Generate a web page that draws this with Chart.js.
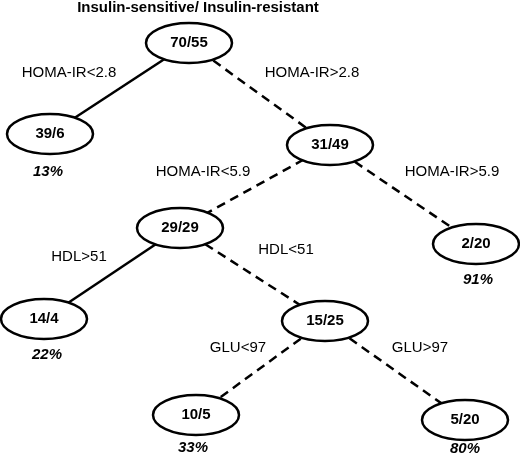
<!DOCTYPE html>
<html>
<head>
<meta charset="utf-8">
<script src="https://cdn.jsdelivr.net/npm/chart.js@4.4.1/dist/chart.umd.min.js"></script>
<style>
  html, body { margin: 0; padding: 0; background: #fff; }
  #wrap { width: 520px; height: 463px; }
</style>
</head>
<body>
<div id="wrap"><canvas id="chartTree" width="520" height="463"></canvas></div>
<script>
// ====== Dados da árvore ======
const titulo = "Insulin-sensitive/ Insulin-resistant";

// nós: rótulo (sensível/resistente) e posição
const nodeLabels = ["70/55", "39/6", "31/49", "2/20", "29/29", "14/4", "15/25", "10/5", "5/20"];
const nodeX = [189, 50, 330, 476, 180, 44, 325, 196, 465];
const nodeY = [43, 134, 145, 244, 228, 319, 321, 415, 420];

// ramos: pai -> filho
const edgeFrom = [0, 0, 2, 2, 4, 4, 6, 6];
const edgeTo = [1, 2, 4, 3, 5, 6, 7, 8];
const edgeDashed = [false, true, true, true, false, true, true, true];
const edgeLabels = ["HOMA-IR<2.8", "HOMA-IR>2.8", "HOMA-IR<5.9", "HOMA-IR>5.9", "HDL>51", "HDL<51", "GLU<97", "GLU>97"];
const edgeLabelX = [69, 312, 203, 452, 79, 286, 238, 420];
const edgeLabelY = [73, 73, 172, 172, 257, 250, 348, 348];

// folhas: % resistente
const leafPct = ["13%", "91%", "22%", "33%", "80%"];
const leafX = [48, 478, 47, 193, 465];
const leafY = [172, 280, 355, 448, 449];

// ====== Elipse usada como pointStyle ======
function makeEllipse(rx, ry) {
    const c = document.createElement("canvas");
    c.width = rx * 2 + 6;
    c.height = ry * 2 + 6;
    const g = c.getContext("2d");
    g.beginPath();
    g.ellipse(c.width / 2, c.height / 2, rx, ry, 0, 0, Math.PI * 2);
    g.fillStyle = "#fff";
    g.fill();
    g.lineWidth = 2.5;
    g.strokeStyle = "#000";
    g.stroke();
    return c;
}
const ellipse = makeEllipse(43, 20);

// ====== Datasets ======
const edgeSets = edgeFrom.map((f, i) => ({
    type: "scatter",
    showLine: true,
    data: [{ x: nodeX[f], y: nodeY[f] }, { x: nodeX[edgeTo[i]], y: nodeY[edgeTo[i]] }],
    borderColor: "#000",
    borderWidth: 2.5,
    borderDash: edgeDashed[i] ? [9, 6] : [],
    pointRadius: 0,
    order: 2
}));

const nodeSet = {
    type: "scatter",
    data: nodeX.map((x, i) => ({ x: x, y: nodeY[i] })),
    pointStyle: ellipse,
    pointRadius: 20,
    clip: false,
    order: 1
};

// ====== Textos (nós, ramos, folhas, título) ======
const textPlugin = {
    id: "treeText",
    afterDatasetsDraw(chart) {
        const { ctx, scales } = chart;
        const px = v => scales.x.getPixelForValue(v);
        const py = v => scales.y.getPixelForValue(v);
        ctx.save();
        ctx.fillStyle = "#000";
        ctx.textAlign = "center";
        ctx.textBaseline = "middle";

        ctx.font = "bold 15px 'Liberation Sans', Arial, sans-serif";
        ctx.fillText(titulo, px(198), py(8));
        nodeLabels.forEach((t, i) => ctx.fillText(t, px(nodeX[i]), py(nodeY[i])));

        ctx.font = "italic bold 15px 'Liberation Sans', Arial, sans-serif";
        leafPct.forEach((t, i) => ctx.fillText(t, px(leafX[i]), py(leafY[i])));

        ctx.font = "15px 'Liberation Sans', Arial, sans-serif";
        edgeLabels.forEach((t, i) => ctx.fillText(t, px(edgeLabelX[i]), py(edgeLabelY[i])));
        ctx.restore();
    }
};

new Chart(document.getElementById("chartTree"), {
    type: "scatter",
    data: { datasets: [nodeSet, ...edgeSets] },
    options: {
        responsive: false,
        animation: false,
        layout: { padding: 0, autoPadding: false },
        plugins: { legend: { display: false }, tooltip: { enabled: false } },
        scales: {
            x: { type: "linear", min: 0, max: 520, display: false },
            y: { type: "linear", min: 0, max: 463, reverse: true, display: false }
        }
    },
    plugins: [textPlugin]
});
</script>
</body>
</html>
